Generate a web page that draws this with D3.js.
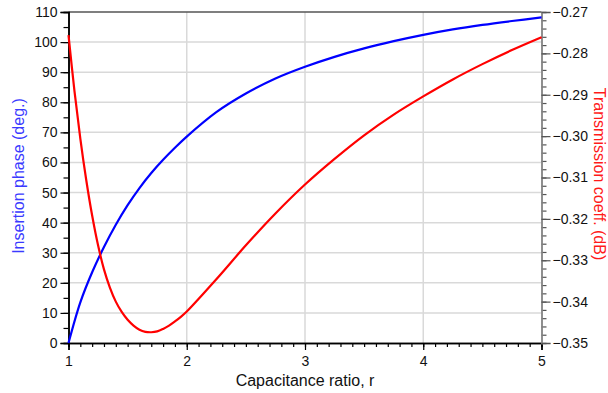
<!DOCTYPE html>
<html>
<head>
<meta charset="utf-8">
<script src="https://cdn.jsdelivr.net/npm/d3@7"></script>
<style>
  body { margin: 0; background: #fff; }
  svg text { font-family: "Liberation Sans", Arial, sans-serif; }
</style>
</head>
<body>
<svg id="chart" width="608" height="393"></svg>
<script>
// capacitance ratio samples (x) for each curve
const phaseR = [1.0, 1.1, 1.2, 1.3, 1.4, 1.5, 1.6, 1.7, 1.8, 1.9, 2.0, 2.25, 2.5, 2.75, 3.0, 3.25, 3.5, 3.75, 4.0, 4.25, 4.5, 4.75, 5.0];
const phaseDeg = [0, 13.5, 23.5, 31.9, 39.3, 45.8, 51.5, 56.5, 60.9, 64.9, 68.6, 76.7, 82.9, 87.9, 91.8, 95.1, 97.9, 100.3, 102.4, 104.2, 105.7, 107.0, 108.2];

const transR = [1.0, 1.05, 1.1, 1.15, 1.2, 1.25, 1.3, 1.35, 1.4, 1.45, 1.5, 1.55, 1.6, 1.65, 1.7, 1.75, 1.8, 1.85, 1.9, 1.95, 2.0, 2.25, 2.5, 2.75, 3.0, 3.25, 3.5, 3.75, 4.0, 4.25, 4.5, 4.75, 5.0];
const transDb = [-0.2756, -0.2890, -0.3006, -0.3106, -0.3192, -0.3264, -0.3322, -0.3366, -0.3400, -0.3425, -0.3444, -0.3458, -0.3468, -0.3473, -0.3474, -0.3472, -0.3466, -0.3458, -0.3448, -0.3437, -0.3424, -0.3346, -0.3264, -0.3187, -0.3117, -0.3055, -0.2998, -0.2948, -0.2904, -0.2863, -0.2826, -0.2792, -0.2761];

const xTicks = [1, 2, 3, 4, 5];
const leftTicks = [0, 10, 20, 30, 40, 50, 60, 70, 80, 90, 100, 110];
const rightTicks = [-0.35, -0.34, -0.33, -0.32, -0.31, -0.30, -0.29, -0.28, -0.27];

const margin = { left: 68.5, right: 541.5, top: 12, bottom: 343 };
const svg = d3.select("#chart");

const x = d3.scaleLinear().domain([1, 5]).range([margin.left, margin.right]);
const yL = d3.scaleLinear().domain([0, 110]).range([margin.bottom, margin.top]);
const yR = d3.scaleLinear().domain([-0.35, -0.27]).range([margin.bottom, margin.top]);

// grid
const grid = svg.append("g").attr("stroke", "#d9d9d9").attr("stroke-width", 1.5);
grid.selectAll("line.h").data(leftTicks.filter(d => d > 0 && d < 110)).enter()
  .append("line").attr("x1", margin.left).attr("x2", margin.right)
  .attr("y1", d => yL(d)).attr("y2", d => yL(d));
grid.selectAll("line.v").data(xTicks.filter(d => d > 1 && d < 5)).enter()
  .append("line").attr("y1", margin.top).attr("y2", margin.bottom)
  .attr("x1", d => x(d)).attr("x2", d => x(d));

// top border
svg.append("line").attr("x1", margin.left).attr("x2", margin.right)
  .attr("y1", margin.top).attr("y2", margin.top)
  .attr("stroke", "#555").attr("stroke-width", 1.5);

// axes
const xAxis = svg.append("g").attr("transform", `translate(0,${margin.bottom})`)
  .call(d3.axisBottom(x).tickValues(d3.range(1, 5.001, 0.1)).tickSize(4).tickFormat(""));
xAxis.append("g").call(d3.axisBottom(x).tickValues(xTicks).tickSize(7).tickFormat(d3.format("d")));

const leftAxis = svg.append("g").attr("transform", `translate(${margin.left},0)`)
  .call(d3.axisLeft(yL).tickValues(d3.range(0, 110.1, 5)).tickSize(5).tickFormat(""));
leftAxis.append("g").call(d3.axisLeft(yL).tickValues(leftTicks).tickSize(8).tickFormat(d3.format("d")));

const rightAxis = svg.append("g").attr("transform", `translate(${margin.right},0)`)
  .call(d3.axisRight(yR).tickValues(d3.range(-0.35, -0.2699, 0.002)).tickSize(5).tickFormat(""));
rightAxis.append("g").call(d3.axisRight(yR).tickValues(rightTicks).tickSize(9).tickPadding(2).tickFormat(d3.format(".2f")));

svg.selectAll(".domain").attr("stroke-width", 1.5);
rightAxis.selectAll(".domain").attr("stroke", "#888");
rightAxis.selectAll("line").attr("stroke", "#555");
svg.selectAll(".tick line").attr("stroke-width", 1.2);
svg.selectAll(".tick text").attr("font-size", 14).attr("fill", "#111");
xAxis.selectAll(".tick text").attr("dy", "0.9em");

// curves
const line = d3.line().curve(d3.curveCatmullRom.alpha(0.5));
svg.append("path")
  .attr("d", line(phaseR.map((r, i) => [x(r), yL(phaseDeg[i])])))
  .attr("fill", "none").attr("stroke", "#0000ff").attr("stroke-width", 2.2);
svg.append("path")
  .attr("d", line(transR.map((r, i) => [x(r), yR(transDb[i])])))
  .attr("fill", "none").attr("stroke", "#ff0000").attr("stroke-width", 2.2);

// titles
svg.append("text").attr("x", (margin.left + margin.right) / 2).attr("y", 386)
  .attr("text-anchor", "middle").attr("font-size", 16).attr("fill", "#111")
  .text("Capacitance ratio, r");
svg.append("text").attr("transform", `translate(24,176) rotate(-90)`)
  .attr("text-anchor", "middle").attr("font-size", 16).attr("fill", "#3a3aff")
  .text("Insertion phase (deg.)");
svg.append("text").attr("transform", `translate(594,174) rotate(90)`)
  .attr("text-anchor", "middle").attr("font-size", 16).attr("fill", "#ff1a1a")
  .text("Transmission coeff. (dB)");
</script>
</body>
</html>
